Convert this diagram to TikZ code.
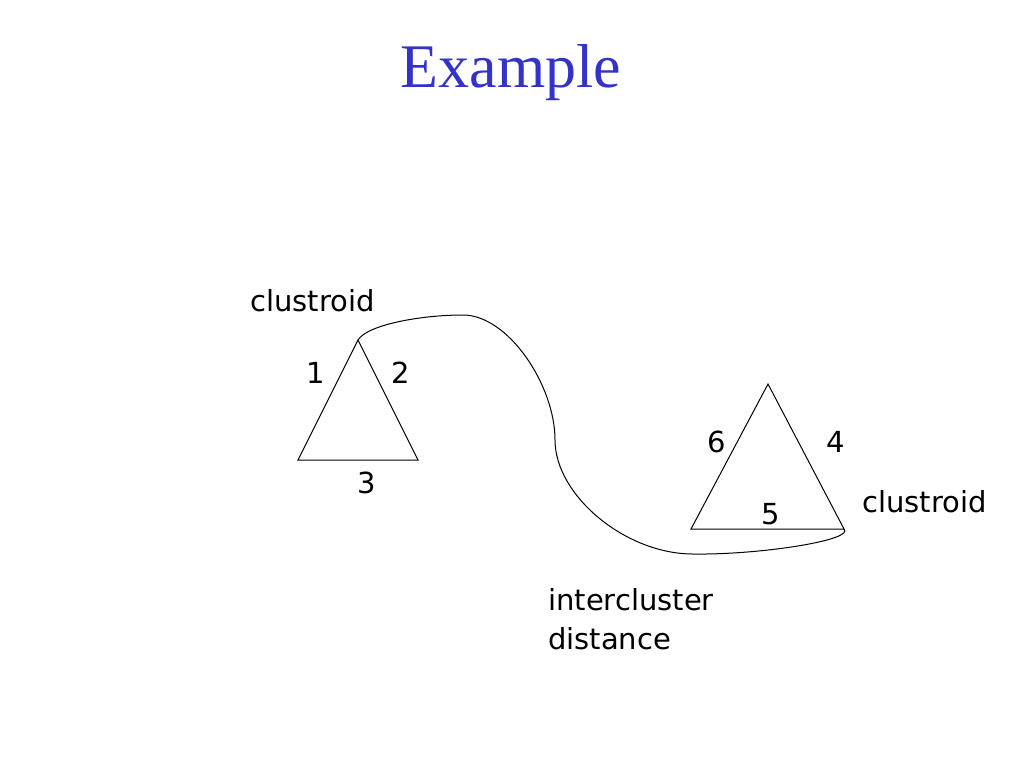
\documentclass[tikz,border=0pt]{standalone}
\usepackage{fontspec}
\setmainfont{Liberation Serif}
\newfontfamily\labelfont{DejaVu Sans}
\definecolor{titleblue}{RGB}{51,51,204}
\begin{document}
\begin{tikzpicture}[x=1pt,y=-1pt,
  lbl/.style={font=\labelfont\fontsize{29}{35}\selectfont, inner sep=0pt, anchor=base},
  lblw/.style={lbl, anchor=base west},
  edge/.style={line width=1pt, black}]
\useasboundingbox[fill=white] (0,0) rectangle (1024,768);
\node[font=\fontsize{62}{70}\selectfont, text=titleblue, inner sep=0pt, anchor=base] (title) at (511,87) {Example};
% left triangle
\coordinate (la) at (358,340);
\coordinate (lb) at (298,460);
\coordinate (lc) at (418,460);
\draw[edge] (la) -- (lb) -- (lc) -- cycle;
% right triangle
\coordinate (ra) at (768,384);
\coordinate (rb) at (691,529);
\coordinate (rc) at (844,529);
\draw[edge] (ra) -- (rb) -- (rc) -- cycle;
% intercluster curve
\coordinate (top) at (463,315);
\coordinate (mid) at (555,440);
\coordinate (bot) at (693,554);
\draw[edge] (la) .. controls (367,325) and (420,315) .. (top)
  .. controls (508,315) and (555,385) .. (mid)
  .. controls (555,495) and (625,554) .. (bot)
  .. controls (760,555) and (855,540) .. (rc);
% labels
\node[lblw] (cl1) at (250,311) {clustroid};
\node[lbl] (n1) at (316,383) {1};
\node[lbl] (n2) at (401,383) {2};
\node[lbl] (n3) at (367,493) {3};
\node[lbl] (n6) at (717,452) {6};
\node[lbl] (n4) at (836,452) {4};
\node[lbl] (n5) at (771,524) {5};
\node[lblw] (cl2) at (862,512) {clustroid};
\node[lblw] (ic) at (548,610) {intercluster};
\node[lblw] (dist) at (548,649) {distance};
\end{tikzpicture}
\end{document}
